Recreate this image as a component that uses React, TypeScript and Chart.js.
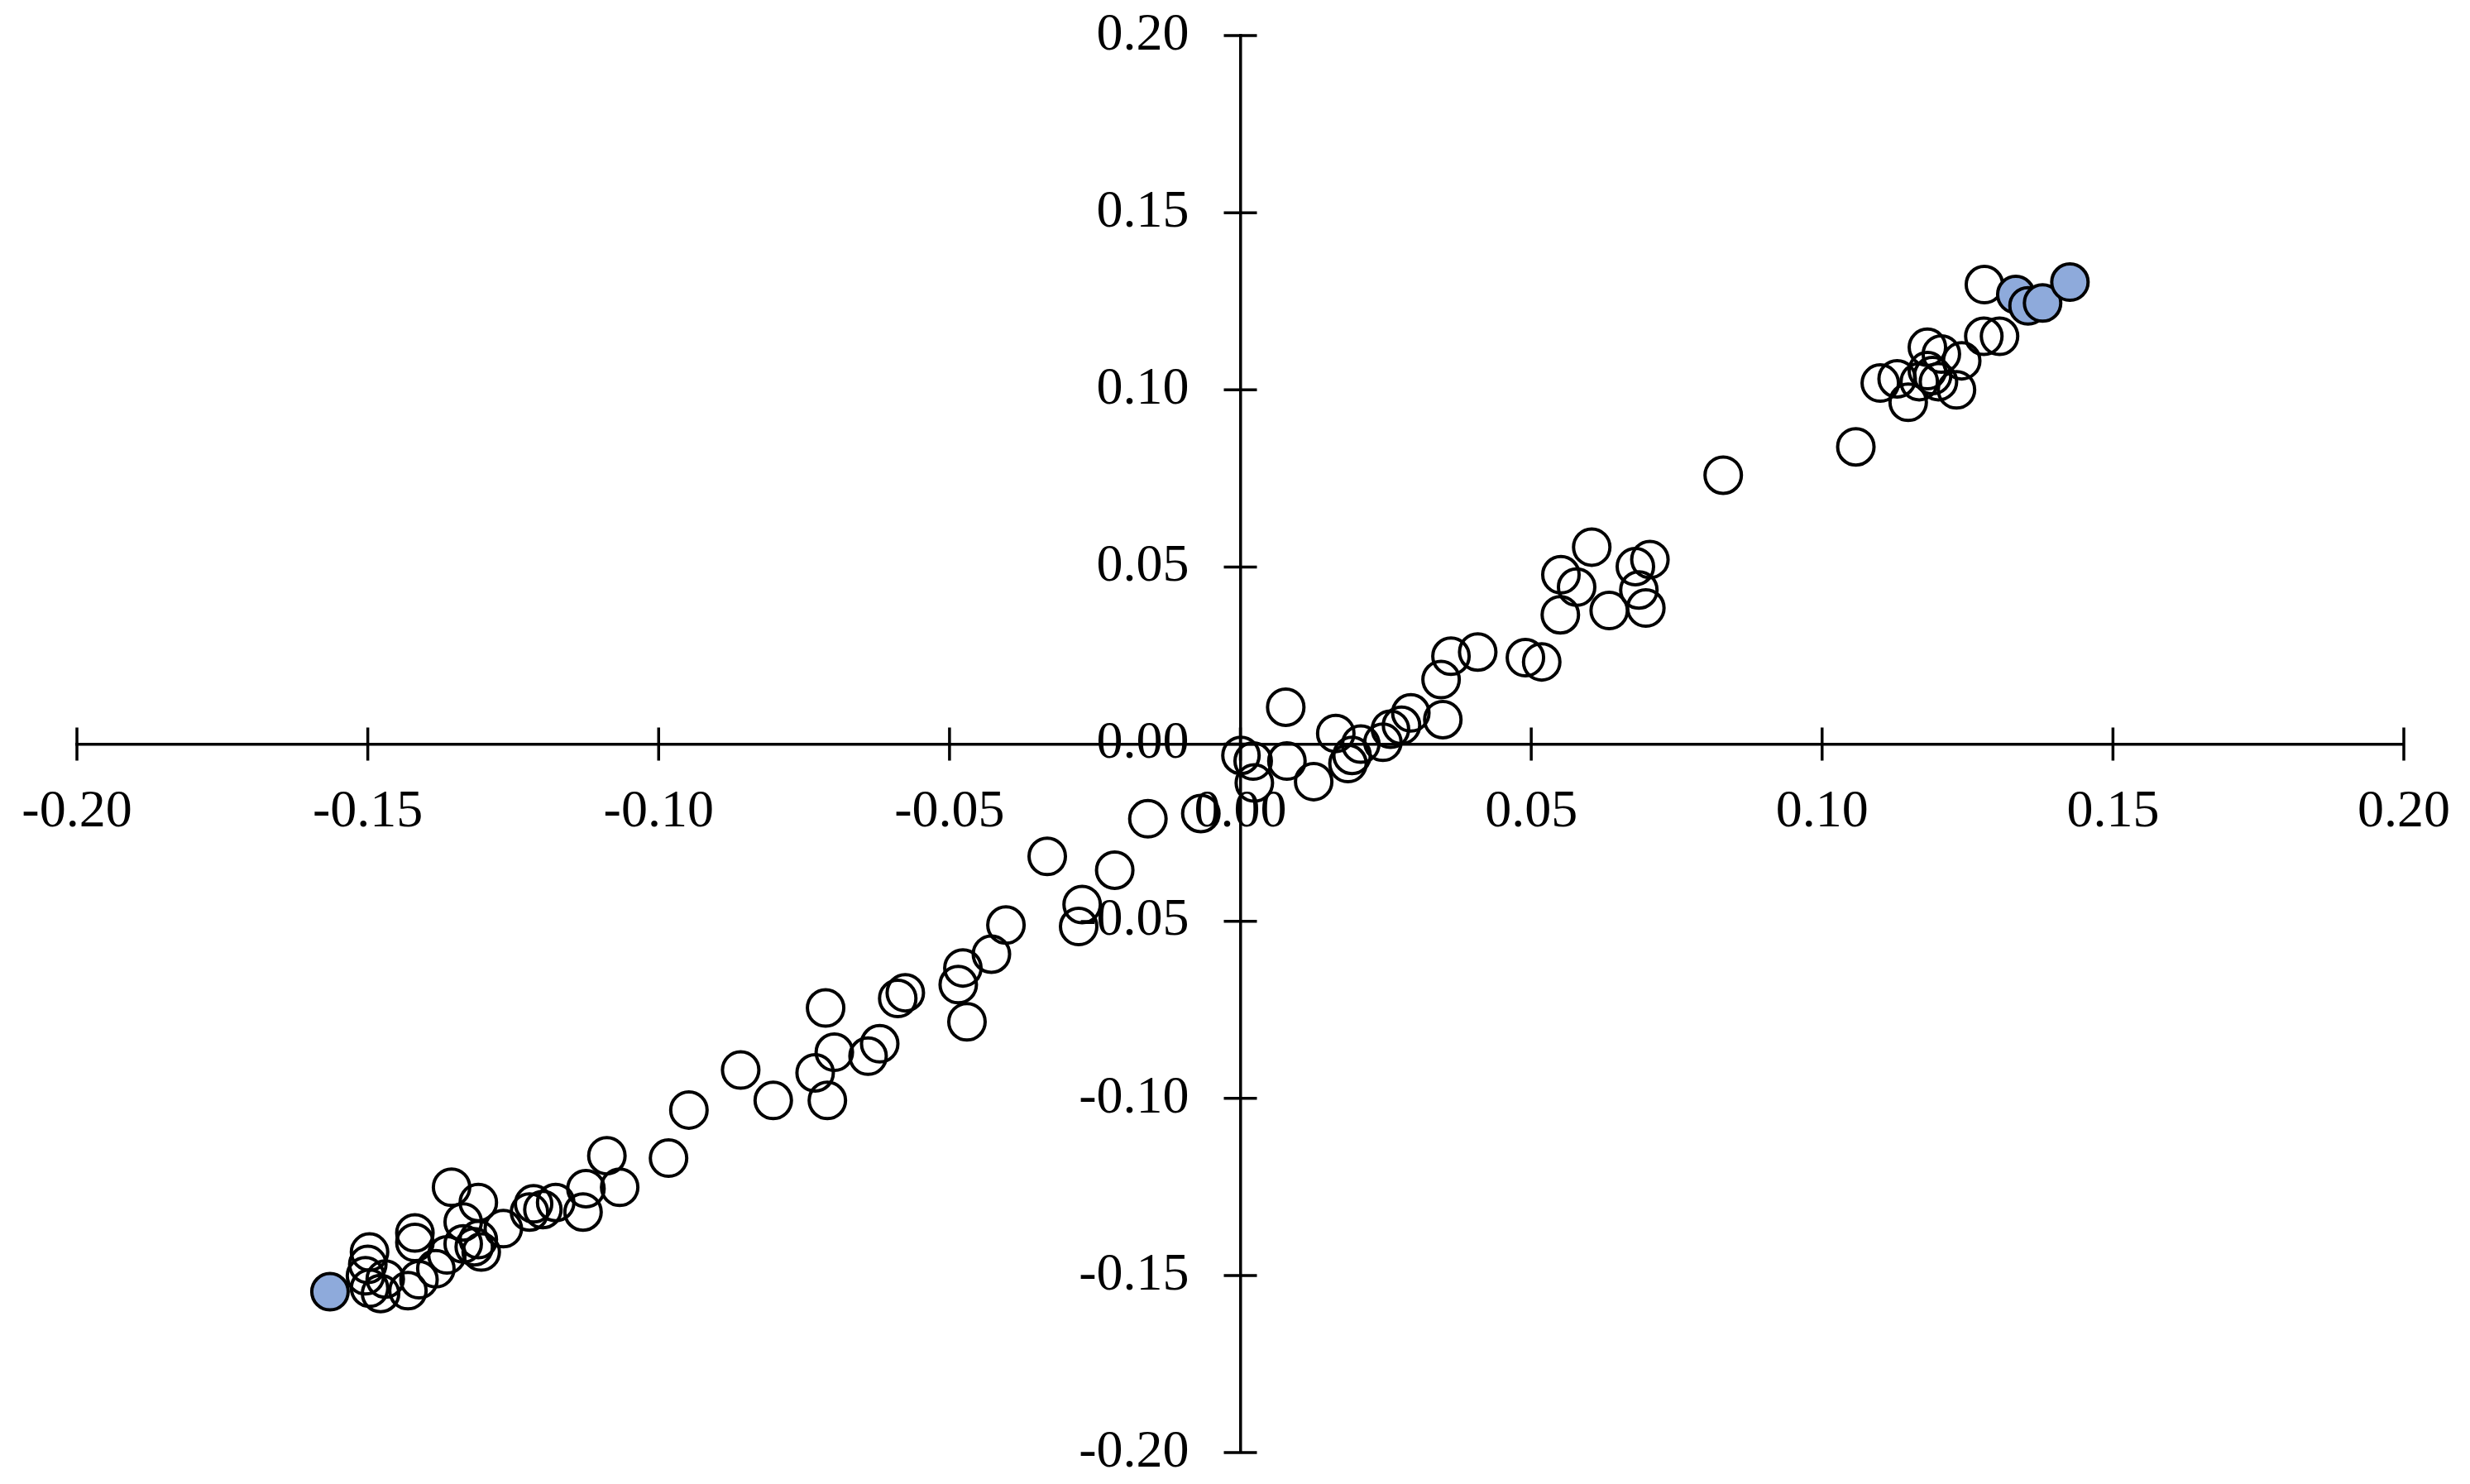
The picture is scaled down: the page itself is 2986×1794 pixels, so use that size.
import React, { useEffect, useRef } from "react";
import { Chart, registerables } from "chart.js";

Chart.register(...registerables);

const xTicks = [-0.2, -0.15, -0.1, -0.05, 0, 0.05, 0.1, 0.15, 0.2];
const yTicks = [-0.2, -0.15, -0.1, -0.05, 0, 0.05, 0.1, 0.15, 0.2];

const openX = [
  0.1279, 0.1278, 0.1305, 0.1181, 0.1205, 0.124, 0.11, 0.1129, 0.1167, 0.12, 0.1148, 0.1231, 0.1181, 0.119,
  0.1058, 0.083,
  0.0604, 0.0551, 0.0578, 0.055, 0.0634, 0.0679, 0.0704, 0.0685, 0.0697,
  0.049, 0.0518, 0.0408, 0.0362, 0.0345, 0.0348, 0.0293, 0.0277, 0.0258, 0.0245, 0.0207, 0.0192, 0.0185, 0.0164,
  0.0078, 0.008, 0.0001, 0.0022, 0.0024, 0.0126,
  -0.0068, -0.0159, -0.0332, -0.0216, -0.0272, -0.0278, -0.0403, -0.0428, -0.0477, -0.0485, -0.047, -0.0576,
  -0.0589, -0.0713, -0.0698, -0.062, -0.064, -0.0731, -0.071, -0.0803, -0.0859, -0.0948, -0.0983,
  -0.1089, -0.1356, -0.131, -0.1125, -0.1067, -0.113, -0.1177, -0.1215, -0.1199, -0.1222, -0.1336, -0.1267,
  -0.131, -0.1317, -0.1305, -0.1336, -0.1419, -0.1419, -0.1364, -0.1383, -0.1412, -0.1431, -0.1478, -0.1497,
  -0.15, -0.1504, -0.1497, -0.147,
];
const openY = [
  0.1297, 0.1151, 0.1151, 0.112, 0.1101, 0.1082, 0.1019, 0.1031, 0.1023, 0.1023, 0.0965, 0.1, 0.1054, 0.104,
  0.0839, 0.0759,
  0.0556, 0.0478, 0.0443, 0.0365, 0.0377, 0.0501, 0.0521, 0.0435, 0.0384,
  0.0244, 0.0232, 0.026, 0.0248, 0.0182, 0.0069, 0.0088, 0.0053, 0.0042, 0.0005, 0.0, -0.0032, -0.0055, 0.003,
  0.0104, -0.0048, -0.0032, -0.0048, -0.011, -0.0106,
  -0.0196, -0.0211, -0.0317, -0.0356, -0.0453, -0.0515, -0.0511, -0.0593, -0.0632, -0.0679, -0.0784, -0.0702,
  -0.0718, -0.0745, -0.087, -0.0846, -0.0881, -0.0928, -0.1006, -0.1006, -0.092, -0.1033, -0.1169,
  -0.1162, -0.1251, -0.1294, -0.1255, -0.1251, -0.1321, -0.1294, -0.1298, -0.1314, -0.1321, -0.1349, -0.1368,
  -0.1399, -0.1419, -0.1434, -0.1411, -0.138, -0.1407, -0.1442, -0.1481, -0.1512, -0.1543, -0.1551, -0.1434,
  -0.1469, -0.1501, -0.1536, -0.151,
];

const filledX = [0.1333, 0.1354, 0.1379, 0.1426, -0.1565];
const filledY = [0.1269, 0.1237, 0.1245, 0.1304, -0.1546];

const FONT = "'Liberation Serif', 'Times New Roman', serif";

const zeroPad = (s: any) => {
  s.paddingTop = 0;
  s.paddingBottom = 0;
  s.paddingLeft = 0;
  s.paddingRight = 0;
};

const centerAxes = {
  id: "centerAxes",
  afterLayout(chart: any) {
    const xs = chart.scales.x;
    const ys = chart.scales.y;
    const x0 = xs.getPixelForValue(0);
    ys.left = 0;
    ys.right = x0;
    ys.width = x0;
  },
  afterDraw(chart: any) {
    const ctx = chart.ctx;
    const xs = chart.scales.x;
    const ys = chart.scales.y;
    const x0 = xs.getPixelForValue(0);
    const y0 = ys.getPixelForValue(0);
    const half = 20;
    ctx.save();
    ctx.strokeStyle = "#000";
    ctx.lineWidth = 3.5;
    ctx.beginPath();
    xTicks.forEach((v) => {
      const px = xs.getPixelForValue(v);
      ctx.moveTo(px, y0 - half);
      ctx.lineTo(px, y0 + half);
    });
    yTicks.forEach((v) => {
      const py = ys.getPixelForValue(v);
      ctx.moveTo(x0 - half, py);
      ctx.lineTo(x0 + half, py);
    });
    ctx.stroke();
    ctx.restore();
  },
};

export default function App() {
  const ref = useRef<HTMLCanvasElement | null>(null);
  useEffect(() => {
    if (!ref.current) return;
    const chart = new Chart(ref.current, {
      type: "scatter",
      data: {
        datasets: [
          {
            label: "filled",
            data: filledX.map((x, i) => ({ x, y: filledY[i] })),
            backgroundColor: "#8eaadb",
            borderColor: "#000",
            borderWidth: 4,
            pointRadius: 22,
            pointHoverRadius: 22,
          },
          {
            label: "open",
            data: openX.map((x, i) => ({ x, y: openY[i] })),
            backgroundColor: "rgba(0,0,0,0)",
            borderColor: "#000",
            borderWidth: 4,
            pointRadius: 22,
            pointHoverRadius: 22,
          },
        ],
      },
      options: {
        responsive: false,
        animation: false,
        devicePixelRatio: 1,
        layout: { padding: { left: 93, right: 80, top: 43, bottom: 38 } },
        plugins: { legend: { display: false }, tooltip: { enabled: false } },
        scales: {
          x: {
            type: "linear",
            position: { y: 0 } as any,
            min: -0.2,
            max: 0.2,
            afterFit: (s: any) => {
              s.height = 0;
              zeroPad(s);
            },
            afterBuildTicks: (s: any) => {
              s.ticks = xTicks.map((v) => ({ value: v }));
            },
            ticks: {
              padding: 44,
              maxRotation: 0,
              autoSkip: false,
              color: "#000",
              font: { family: FONT, size: 64 },
              callback: (v: any) => Number(v).toFixed(2),
            },
            grid: { display: true, drawOnChartArea: false, drawTicks: false },
            border: { display: true, color: "#000", width: 3.5 },
          },
          y: {
            type: "linear",
            position: "left",
            min: -0.2,
            max: 0.2,
            afterFit: (s: any) => {
              s.width = 0;
              zeroPad(s);
            },
            afterBuildTicks: (s: any) => {
              s.ticks = yTicks.map((v) => ({ value: v }));
            },
            ticks: {
              padding: 62,
              autoSkip: false,
              color: "#000",
              font: { family: FONT, size: 64 },
              callback: (v: any) => Number(v).toFixed(2),
            },
            grid: { display: true, drawOnChartArea: false, drawTicks: false },
            border: { display: true, color: "#000", width: 3.5 },
          },
        },
      },
      plugins: [centerAxes],
    });
    return () => chart.destroy();
  }, []);
  return (
    <div style={{ position: "absolute", left: 0, top: 0, width: 2986, height: 1794, background: "#fff" }}>
      <canvas ref={ref} width={2986} height={1794} />
    </div>
  );
}
